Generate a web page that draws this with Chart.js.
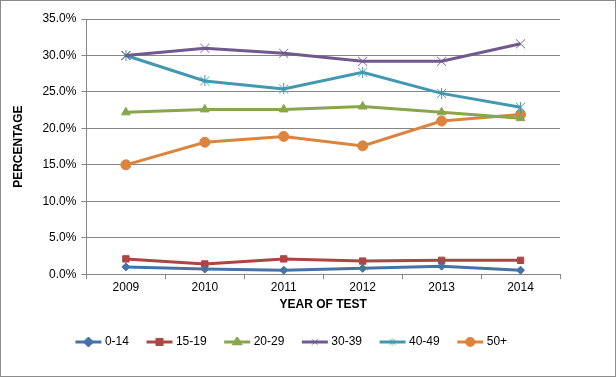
<!DOCTYPE html>
<html>
<head>
<meta charset="utf-8">
<script src="https://cdn.jsdelivr.net/npm/chart.js@4"></script>
<style>
	html, body { margin: 0; padding: 0; background: #fff; }
	#wrap { position: relative; width: 614px; height: 375px; border: 1px solid #8c8c8c; }
</style>
</head>
<body>
<div id="wrap"><canvas id="chart" width="614" height="375"></canvas></div>
<script>
// data
const years = ['2009', '2010', '2011', '2012', '2013', '2014'];
const age0to14 = [1.0, 0.7, 0.55, 0.8, 1.1, 0.55];
const age15to19 = [2.1, 1.4, 2.1, 1.8, 1.9, 1.9];
const age20to29 = [22.2, 22.6, 22.6, 23.0, 22.2, 21.4];
const age30to39 = [30.0, 31.0, 30.3, 29.2, 29.2, 31.6];
const age40to49 = [30.0, 26.5, 25.4, 27.7, 24.8, 22.9];
const age50plus = [15.0, 18.1, 18.9, 17.6, 21.0, 21.9];

const FONT = 'Liberation Sans, Arial, sans-serif';

// excel-like asterisk marker: X plus vertical stroke
let makeStar = (color) => {
	let c = document.createElement('canvas');
	c.width = 11; c.height = 11;
	let ctx = c.getContext('2d');
	ctx.strokeStyle = color;
	ctx.lineWidth = 1;
	ctx.beginPath();
	ctx.moveTo(1, 1); ctx.lineTo(10, 10);
	ctx.moveTo(10, 1); ctx.lineTo(1, 10);
	ctx.moveTo(5.5, 0); ctx.lineTo(5.5, 11);
	ctx.stroke();
	return c;
};

let makeX = (color) => {
	let c = document.createElement('canvas');
	c.width = 11; c.height = 11;
	let ctx = c.getContext('2d');
	ctx.strokeStyle = color;
	ctx.lineWidth = 1;
	ctx.beginPath();
	ctx.moveTo(1, 1); ctx.lineTo(10, 10);
	ctx.moveTo(10, 1); ctx.lineTo(1, 10);
	ctx.stroke();
	return c;
};

let series = [
	{ label: '0-14', data: age0to14, color: '#4572A7', style: 'rectRot', radius: 4 },
	{ label: '15-19', data: age15to19, color: '#AA4643', style: 'rect', radius: 4.5 },
	{ label: '20-29', data: age20to29, color: '#89A54E', style: 'triangle', radius: 5 },
	{ label: '30-39', data: age30to39, color: '#71588F', style: makeX('#71588F'), radius: 5 },
	{ label: '40-49', data: age40to49, color: '#4198AF', style: makeStar('#4198AF'), radius: 5 },
	{ label: '50+', data: age50plus, color: '#DB843D', style: 'circle', radius: 5 },
];

// legend swatch: short line with marker in the middle, shifted right to sit close to the text
let makeLegendIcon = (s) => {
	let c = document.createElement('canvas');
	c.width = 34; c.height = 10;
	let ctx = c.getContext('2d');
	ctx.strokeStyle = s.color;
	ctx.fillStyle = s.color;
	ctx.lineWidth = 3;
	ctx.beginPath();
	ctx.moveTo(6, 5); ctx.lineTo(32, 5);
	ctx.stroke();
	if (typeof s.style !== 'string') {
		ctx.drawImage(s.style, 15, 1, 8, 8);
	} else {
		Chart.helpers.drawPoint(ctx, { pointStyle: s.style, radius: 3.5, borderWidth: 1 }, 19, 5);
		ctx.fill();
	}
	return c;
};

// nudge the legend sideways, it is not centred on the chart in the reference
let legendShift = {
	id: 'legendShift',
	afterLayout (chart) {
		chart.legend.left += 7;
		chart.legend.right += 7;
	},
};

let datasets = series.map((s) => ({
	label: s.label,
	data: s.data,
	borderColor: s.color,
	backgroundColor: s.color,
	borderWidth: 3,
	pointStyle: s.style,
	pointRadius: s.radius,
	pointBorderWidth: 1,
	tension: 0,
}));

new Chart(document.getElementById('chart'), {
	type: 'line',
	data: { labels: years, datasets },
	options: {
		responsive: false,
		animation: false,
		layout: { padding: { top: 18, right: 55, left: 6, bottom: 18 } },
		plugins: {
			tooltip: { enabled: false },
			legend: {
				position: 'bottom',
				labels: {
					font: { family: FONT, size: 12 },
					color: '#000',
					usePointStyle: true,
					pointStyleWidth: 25,
					padding: 16,
					generateLabels: (chart) => series.map((s, i) => ({
						text: s.label,
						pointStyle: makeLegendIcon(s),
						fillStyle: s.color,
						strokeStyle: s.color,
						lineWidth: 0,
						datasetIndex: i,
					})),
				},
			},
		},
		scales: {
			x: {
				offset: true,
				grid: { display: true, drawOnChartArea: false, offset: true, color: '#868686', tickLength: 5 },
				border: { color: '#868686' },
				ticks: { font: { family: FONT, size: 12 }, color: '#000', padding: 1 },
				title: { display: true, text: 'YEAR OF TEST', font: { family: FONT, size: 12, weight: 'bold' }, color: '#000', padding: { top: 2, bottom: 8 } },
			},
			y: {
				min: 0,
				max: 35,
				ticks: {
					stepSize: 5,
					font: { family: FONT, size: 12 },
					color: '#000',
					padding: 5,
					callback: (v) => v.toFixed(1) + '%',
				},
				grid: { color: '#868686', tickLength: 5 },
				border: { color: '#868686' },
				title: { display: true, text: 'PERCENTAGE', font: { family: FONT, size: 12, weight: 'bold' }, color: '#000', padding: { bottom: 12 } },
			},
		},
	},
	plugins: [legendShift],
});
</script>
</body>
</html>
